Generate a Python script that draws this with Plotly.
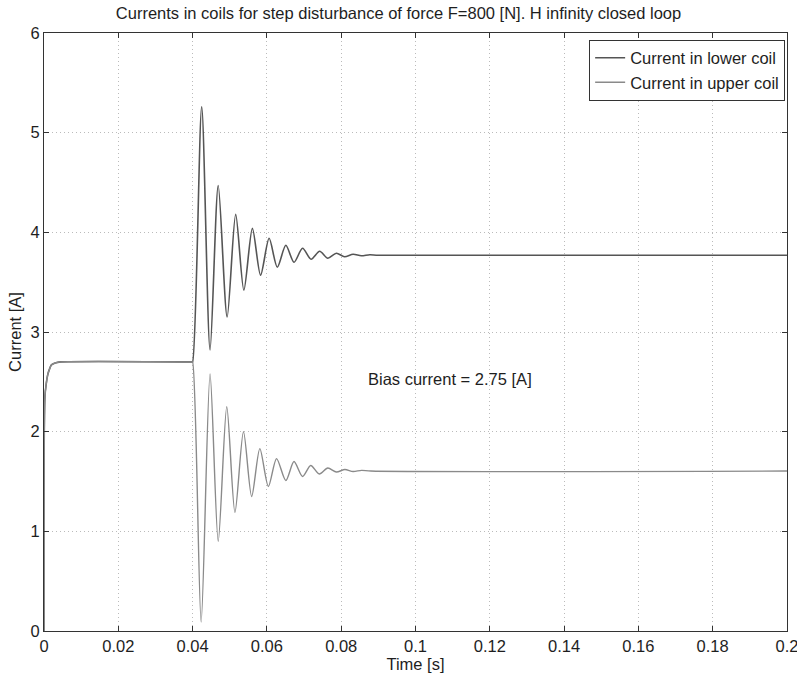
import plotly.graph_objects as go

# ---- data ----
t_lower = [0, 0.00025, 0.0006, 0.001, 0.0015, 0.002, 0.003, 0.0045, 0.0398, 0.0400,
           0.04245, 0.0447, 0.0469, 0.0493, 0.0516, 0.0538, 0.0561, 0.0583, 0.0606,
           0.0628, 0.0651, 0.0673, 0.0696, 0.0719, 0.0742, 0.0764, 0.0787, 0.0809,
           0.0832, 0.0854, 0.0877, 0.0900, 0.2]
i_lower = [0, 2.35, 2.48, 2.57, 2.63, 2.67, 2.69, 2.70, 2.70, 2.70,
           5.26, 2.82, 4.47, 3.15, 4.18, 3.42, 4.04, 3.57, 3.94,
           3.65, 3.87, 3.70, 3.84, 3.73, 3.81, 3.74, 3.79, 3.755,
           3.78, 3.765, 3.775, 3.77, 3.77]

t_upper = [0, 0.00025, 0.0006, 0.001, 0.0015, 0.002, 0.003, 0.0045, 0.0398, 0.0400,
           0.0423, 0.0447, 0.0469, 0.0492, 0.0514, 0.0537, 0.0559, 0.0581, 0.0604,
           0.0626, 0.0651, 0.0673, 0.0696, 0.0718, 0.0741, 0.0764, 0.0787, 0.0810,
           0.0832, 0.0855, 0.0880, 0.2]
i_upper = [0, 2.35, 2.48, 2.57, 2.63, 2.67, 2.69, 2.70, 2.70, 2.70,
           0.09, 2.58, 0.90, 2.25, 1.19, 2.00, 1.35, 1.83, 1.45,
           1.73, 1.51, 1.70, 1.55, 1.66, 1.575, 1.635, 1.595, 1.62,
           1.60, 1.612, 1.605, 1.605]

x_tickvals = [0, 0.02, 0.04, 0.06, 0.08, 0.1, 0.12, 0.14, 0.16, 0.18, 0.2]
x_ticktext = ["0", "0.02", "0.04", "0.06", "0.08", "0.1", "0.12", "0.14", "0.16", "0.18", "0.2"]
y_tickvals = [0, 1, 2, 3, 4, 5, 6]

FONT = "Liberation Sans, Arial, sans-serif"
TXT = "#1e1e1e"
FS = 16.5

fig = go.Figure()
fig.add_trace(go.Scatter(x=t_lower, y=i_lower, mode="lines", name="Current in lower coil",
                         line=dict(color="#555555", width=1.6, shape="spline", smoothing=0.8)))
fig.add_trace(go.Scatter(x=t_upper, y=i_upper, mode="lines", name="Current in upper coil",
                         line=dict(color="#8a8a8a", width=1.4, shape="spline", smoothing=0.8)))

fig.add_annotation(x=0.1093, y=2.53, text="Bias current = 2.75 [A]", showarrow=False,
                   font=dict(family=FONT, size=FS, color=TXT))

axis_common = dict(showline=True, linecolor="#333", linewidth=1, mirror="ticks",
                   ticks="inside", ticklen=5, tickcolor="#333",
                   showgrid=True, gridcolor="#bbbbbb", griddash="1px,3px", gridwidth=1,
                   zeroline=False, ticklabeloverflow="allow",
                   tickfont=dict(family=FONT, size=FS, color=TXT))

fig.update_layout(
    width=797, height=679,
    margin=dict(l=44, r=10, t=33, b=48),
    paper_bgcolor="white", plot_bgcolor="white",
    title=dict(text="Currents in coils for step disturbance of force F=800 [N]. H infinity closed loop",
               x=0.5, xanchor="center", y=0.981, yanchor="middle", yref="container",
               font=dict(family=FONT, size=FS, color=TXT)),
    xaxis=dict(range=[0, 0.20001], tickvals=x_tickvals, ticktext=x_ticktext, automargin=False,
               title=dict(text="Time [s]", font=dict(family=FONT, size=FS, color=TXT), standoff=1),
               **axis_common),
    yaxis=dict(range=[0, 6.00001], tickvals=y_tickvals,
               title=dict(text="Current [A]", font=dict(family=FONT, size=FS, color=TXT), standoff=4),
               **axis_common),
    legend=dict(x=0.9975, y=0.989, xanchor="right", yanchor="top",
                bgcolor="white", bordercolor="#333", borderwidth=1,
                font=dict(family=FONT, size=FS, color=TXT),
                tracegroupgap=0, itemwidth=30),
    showlegend=True,
)

fig.write_html("out.html")
